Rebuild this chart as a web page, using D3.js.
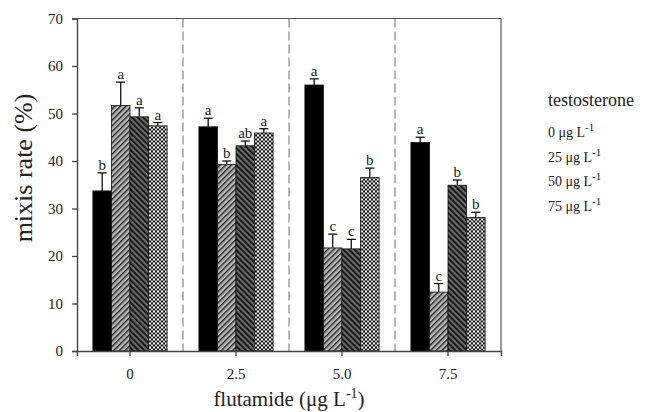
<!DOCTYPE html>
<html>
<head>
<meta charset="utf-8">
<script src="https://cdn.jsdelivr.net/npm/d3@7"></script>
<style>
  body { margin: 0; background: #fff; }
  text { font-family: "Liberation Serif", "Times New Roman", serif; fill: #222; }
</style>
</head>
<body>
<div id="chart"></div>
<script>
// flutamide doses (x groups) and testosterone levels (series)
const doses = ["0", "2.5", "5.0", "7.5"];
const levels = ["0", "25", "50", "75"];

// mean mixis rate (%) per testosterone level, one value per flutamide dose
const means = [
    [33.7, 47.2, 56.0, 43.9],
    [51.7, 39.3, 21.7, 12.4],
    [49.3, 43.2, 21.5, 34.9],
    [47.4, 45.9, 36.5, 28.1]
];
// top of error bar
const errTops = [
    [37.5, 49.0, 57.3, 45.0],
    [56.6, 40.0, 24.6, 14.2],
    [51.2, 44.2, 23.5, 36.0],
    [48.1, 46.8, 38.5, 29.2]
];
// significance letters
const letters = [
    ["b", "a", "a", "a"],
    ["a", "b", "c", "c"],
    ["a", "ab", "c", "b"],
    ["a", "a", "b", "b"]
];
const yTicks = [0, 10, 20, 30, 40, 50, 60, 70];

const width = 648, height = 412;
const margin = { top: 18.5, right: 147, bottom: 61, left: 77 };
const innerW = width - margin.left - margin.right;
const innerH = height - margin.top - margin.bottom;

const svg = d3.select("#chart").append("svg")
    .attr("width", width)
    .attr("height", height);

// fill patterns for the four series
const defs = svg.append("defs");

const p1 = defs.append("pattern").attr("id", "hatchLight")
    .attr("width", 4).attr("height", 4)
    .attr("patternUnits", "userSpaceOnUse")
    .attr("patternTransform", "rotate(45)");
p1.append("rect").attr("width", 4).attr("height", 4).attr("fill", "#b8b8b8");
p1.append("rect").attr("width", 1.5).attr("height", 4).attr("fill", "#2a2a2a");

const p2 = defs.append("pattern").attr("id", "hatchDark")
    .attr("width", 4).attr("height", 4)
    .attr("patternUnits", "userSpaceOnUse")
    .attr("patternTransform", "rotate(-45)");
p2.append("rect").attr("width", 4).attr("height", 4).attr("fill", "#6a6a6a");
p2.append("rect").attr("width", 1.8).attr("height", 4).attr("fill", "#111");

const p3 = defs.append("pattern").attr("id", "checker")
    .attr("width", 4).attr("height", 4)
    .attr("patternUnits", "userSpaceOnUse");
p3.append("rect").attr("width", 4).attr("height", 4).attr("fill", "#111");
p3.append("rect").attr("width", 2).attr("height", 2).attr("fill", "#fff");
p3.append("rect").attr("x", 2).attr("y", 2).attr("width", 2).attr("height", 2).attr("fill", "#ccc");

const fills = ["#000", "url(#hatchLight)", "url(#hatchDark)", "url(#checker)"];

const g = svg.append("g")
    .attr("transform", `translate(${margin.left},${margin.top})`);

const x0 = d3.scaleBand().domain(doses).range([0, innerW]).padding(0);
const x1 = d3.scaleBand().domain(levels)
    .range([x0.bandwidth() * 0.15, x0.bandwidth() * 0.85]);
const y = d3.scaleLinear().domain([0, 70]).range([innerH, 0]);

// dashed separators between groups
g.selectAll(".sep")
    .data(doses.slice(1))
    .enter()
    .append("line")
    .attr("x1", d => x0(d))
    .attr("x2", d => x0(d))
    .attr("y1", 0)
    .attr("y2", innerH)
    .attr("stroke", "#888")
    .attr("stroke-width", 1.2)
    .attr("stroke-dasharray", "9,4");

// flatten data for drawing
const cells = [];
levels.forEach((lev, i) => {
    doses.forEach((dose, j) => {
        cells.push({ lev, dose, i, v: means[i][j], e: errTops[i][j], t: letters[i][j] });
    });
});

const bx = d => x0(d.dose) + x1(d.lev);
const bw = x1.bandwidth();

// error bars (drawn first so bars cover the stem)
const err = g.selectAll(".err").data(cells).enter().append("g");
err.append("line")
    .attr("x1", d => bx(d) + bw / 2).attr("x2", d => bx(d) + bw / 2)
    .attr("y1", d => y(d.v)).attr("y2", d => y(d.e))
    .attr("stroke", "#111").attr("stroke-width", 1.3);
err.append("line")
    .attr("x1", d => bx(d) + bw / 2 - 4.5).attr("x2", d => bx(d) + bw / 2 + 4.5)
    .attr("y1", d => y(d.e)).attr("y2", d => y(d.e))
    .attr("stroke", "#111").attr("stroke-width", 1.3);

// bars
g.selectAll(".bar").data(cells).enter().append("rect")
    .attr("x", d => bx(d))
    .attr("y", d => y(d.v))
    .attr("width", bw)
    .attr("height", d => innerH - y(d.v))
    .attr("fill", d => fills[d.i])
    .attr("stroke", "#111")
    .attr("stroke-width", 0.8);

// letters
g.selectAll(".lett").data(cells).enter().append("text")
    .attr("x", d => bx(d) + bw / 2)
    .attr("y", d => y(d.e) - 3)
    .attr("text-anchor", "middle")
    .style("font-size", "15px")
    .text(d => d.t);

// frame: top and right
g.append("line").attr("x1", 0).attr("x2", innerW).attr("y1", 0).attr("y2", 0)
    .attr("stroke", "#555").attr("stroke-width", 1.2);
g.append("line").attr("x1", innerW).attr("x2", innerW).attr("y1", 0).attr("y2", innerH)
    .attr("stroke", "#555").attr("stroke-width", 1.2);

// axes
const yAxis = g.append("g")
    .call(d3.axisLeft(y).tickValues(yTicks).tickSize(5).tickPadding(9));
const xAxis = g.append("g")
    .attr("transform", `translate(0,${innerH})`)
    .call(d3.axisBottom(x0).tickSize(5).tickPadding(12));

[xAxis, yAxis].forEach(a => {
    a.select(".domain").attr("stroke", "#444").attr("stroke-width", 1.4);
    a.selectAll(".tick line").attr("stroke", "#444").attr("stroke-width", 1.3);
    a.selectAll(".tick text")
        .style("font-family", "'Liberation Serif', 'Times New Roman', serif")
        .style("font-size", "15px")
        .attr("fill", "#222");
});

// axis titles
svg.append("text")
    .attr("transform", `translate(32,168) rotate(-90)`)
    .attr("text-anchor", "middle")
    .style("font-size", "26px")
    .text("mixis rate (%)");

const xt = svg.append("text")
    .attr("x", margin.left + innerW / 2)
    .attr("y", 406)
    .attr("text-anchor", "middle")
    .style("font-size", "21px");
xt.append("tspan").text("flutamide (\u03bcg L");
xt.append("tspan").attr("dy", -8).style("font-size", "14px").text("-1");
xt.append("tspan").attr("dy", 8).text(")");

// legend
svg.append("text")
    .attr("x", 548).attr("y", 106)
    .style("font-size", "18px")
    .text("testosterone");

const leg = svg.selectAll(".leg").data(levels).enter().append("text")
    .attr("x", 548)
    .attr("y", (d, i) => 137 + i * 24.5)
    .style("font-size", "14px");
leg.append("tspan").text(d => d + " \u03bcg L");
leg.append("tspan").attr("dy", -6).style("font-size", "11px").text("-1");
</script>
</body>
</html>
